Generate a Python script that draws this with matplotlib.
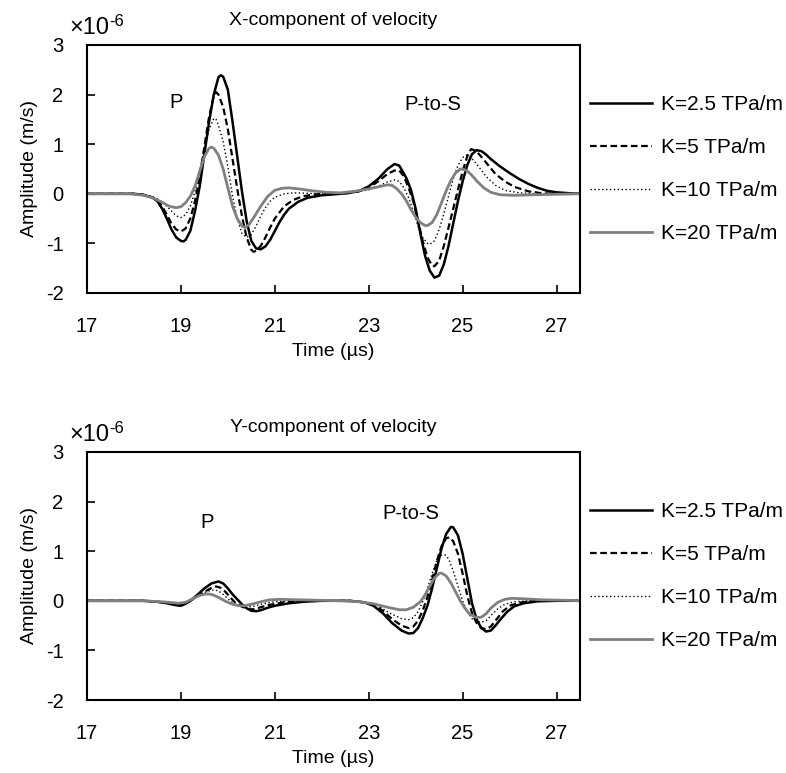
import matplotlib
matplotlib.use("Agg")
import matplotlib.pyplot as plt
from matplotlib import font_manager

# time in microseconds, amplitude in units of 1e-6 m/s
# ---- X-component ----
x_t_k25 = [17.0, 18.0, 18.2, 18.4, 18.5, 18.6, 18.7, 18.8, 18.9, 19.0, 19.05, 19.1, 19.2, 19.3, 19.4, 19.5,
           19.6, 19.7, 19.8, 19.85, 19.9, 20.0, 20.1, 20.2, 20.3, 20.4, 20.5, 20.6, 20.7, 20.8, 20.9, 21.0,
           21.1, 21.2, 21.3, 21.5, 21.7, 22.0, 22.4, 22.6, 22.8, 23.0, 23.2, 23.4, 23.55, 23.65, 23.8, 23.9,
           24.0, 24.1, 24.2, 24.3, 24.4, 24.5, 24.6, 24.7, 24.8, 24.9, 25.0, 25.1, 25.2, 25.3, 25.4, 25.5,
           25.6, 25.8, 26.0, 26.2, 26.4, 26.6, 26.8, 27.0, 27.3, 27.5]
x_a_k25 = [0.0, 0.0, -0.02, -0.08, -0.15, -0.3, -0.5, -0.72, -0.88, -0.95, -0.96, -0.93, -0.75, -0.35, 0.15, 0.8,
           1.45, 2.0, 2.35, 2.39, 2.36, 2.1, 1.45, 0.75, 0.05, -0.55, -0.95, -1.1, -1.12, -1.06, -0.93, -0.75,
           -0.57, -0.42, -0.3, -0.16, -0.08, -0.03, 0.0, 0.02, 0.06, 0.15, 0.3, 0.5, 0.6, 0.57, 0.32, 0.08,
           -0.3, -0.8, -1.25, -1.55, -1.69, -1.65, -1.42, -1.05, -0.6, -0.15, 0.25, 0.58, 0.8, 0.88, 0.86, 0.79,
           0.7, 0.55, 0.42, 0.3, 0.2, 0.12, 0.06, 0.03, 0.01, 0.0]

x_t_k5 = [17.0, 18.0, 18.2, 18.4, 18.5, 18.6, 18.7, 18.8, 18.9, 19.0, 19.1, 19.2, 19.3, 19.4, 19.5, 19.6,
          19.7, 19.75, 19.8, 19.9, 20.0, 20.1, 20.2, 20.3, 20.4, 20.5, 20.55, 20.6, 20.7, 20.8, 20.9, 21.0,
          21.2, 21.4, 21.6, 21.8, 22.0, 22.4, 22.6, 22.8, 23.0, 23.2, 23.4, 23.55, 23.65, 23.75, 23.85, 23.95,
          24.05, 24.15, 24.25, 24.35, 24.4, 24.5, 24.6, 24.7, 24.8, 24.9, 25.0, 25.1, 25.18, 25.25, 25.35, 25.5,
          25.7, 25.9, 26.1, 26.4, 26.7, 27.0, 27.5]
x_a_k5 = [0.0, 0.0, -0.02, -0.07, -0.13, -0.25, -0.42, -0.6, -0.72, -0.76, -0.7, -0.5, -0.15, 0.35, 0.95, 1.55,
          1.97, 2.05, 2.0, 1.75, 1.3, 0.7, 0.1, -0.45, -0.88, -1.13, -1.17, -1.15, -1.05, -0.88, -0.68, -0.5,
          -0.25, -0.12, -0.05, -0.02, 0.0, 0.0, 0.02, 0.05, 0.12, 0.25, 0.4, 0.47, 0.47, 0.35, 0.12, -0.15,
          -0.55, -0.95, -1.28, -1.45, -1.46, -1.35, -1.05, -0.68, -0.3, 0.08, 0.45, 0.76, 0.9, 0.88, 0.8, 0.63,
          0.4, 0.25, 0.14, 0.05, 0.01, 0.0, 0.0]

x_t_k10 = [17.0, 18.0, 18.3, 18.5, 18.7, 18.85, 18.95, 19.0, 19.1, 19.2, 19.3, 19.4, 19.5, 19.6, 19.7, 19.75,
           19.8, 19.9, 20.0, 20.1, 20.2, 20.3, 20.4, 20.5, 20.6, 20.7, 20.8, 20.9, 21.0, 21.2, 21.4, 21.7,
           22.0, 22.4, 22.7, 23.0, 23.2, 23.4, 23.55, 23.65, 23.75, 23.85, 23.95, 24.05, 24.15, 24.25, 24.3, 24.4,
           24.5, 24.6, 24.7, 24.8, 24.9, 25.0, 25.08, 25.15, 25.3, 25.5, 25.7, 25.9, 26.2, 26.6, 27.5]
x_a_k10 = [0.0, 0.0, -0.03, -0.1, -0.25, -0.4, -0.47, -0.48, -0.42, -0.25, 0.05, 0.45, 0.9, 1.3, 1.52, 1.5,
           1.38, 1.05, 0.55, -0.05, -0.5, -0.8, -0.88, -0.82, -0.65, -0.45, -0.28, -0.15, -0.07, 0.0, 0.02, 0.01,
           0.0, 0.0, 0.03, 0.08, 0.15, 0.24, 0.28, 0.25, 0.12, -0.08, -0.35, -0.65, -0.88, -1.0, -1.02, -0.95,
           -0.72, -0.4, -0.05, 0.3, 0.57, 0.73, 0.78, 0.76, 0.6, 0.35, 0.17, 0.07, 0.02, 0.0, 0.0]

x_t_k20 = [17.0, 17.9, 18.2, 18.4, 18.6, 18.75, 18.9, 19.0, 19.1, 19.2, 19.3, 19.4, 19.5, 19.6, 19.65, 19.7,
           19.8, 19.9, 20.0, 20.1, 20.2, 20.3, 20.37, 20.45, 20.55, 20.7, 20.85, 21.0, 21.15, 21.3, 21.5, 21.8,
           22.1, 22.4, 22.7, 23.0, 23.2, 23.4, 23.5, 23.6, 23.7, 23.8, 23.9, 24.0, 24.1, 24.2, 24.25, 24.35,
           24.45, 24.55, 24.65, 24.75, 24.85, 24.95, 25.0, 25.1, 25.2, 25.3, 25.45, 25.6, 25.8, 26.1, 26.5, 27.0,
           27.5]
x_a_k20 = [0.0, 0.0, -0.03, -0.08, -0.17, -0.25, -0.28, -0.26, -0.18, -0.05, 0.15, 0.45, 0.75, 0.92, 0.94, 0.92,
           0.78, 0.5, 0.12, -0.25, -0.5, -0.65, -0.68, -0.62, -0.48, -0.25, -0.05, 0.07, 0.11, 0.12, 0.1, 0.06,
           0.03, 0.02, 0.05, 0.1, 0.14, 0.18, 0.17, 0.1, 0.0, -0.14, -0.32, -0.47, -0.58, -0.64, -0.64, -0.58,
           -0.42, -0.18, 0.06, 0.27, 0.42, 0.5, 0.5, 0.46, 0.37, 0.26, 0.12, 0.03, -0.02, -0.03, -0.02, -0.01,
           0.0]

# ---- Y-component ----
y_t_k25 = [17.0, 18.2, 18.5, 18.7, 18.9, 19.0, 19.1, 19.2, 19.35, 19.5, 19.65, 19.8, 19.9, 20.0, 20.1, 20.2,
           20.3, 20.4, 20.5, 20.6, 20.7, 20.85, 21.0, 21.3, 21.6, 22.0, 22.6, 22.9, 23.1, 23.3, 23.5, 23.7,
           23.85, 23.95, 24.05, 24.15, 24.25, 24.35, 24.45, 24.55, 24.65, 24.75, 24.8, 24.9, 25.0, 25.1, 25.2, 25.3,
           25.4, 25.5, 25.6, 25.7, 25.8, 25.95, 26.1, 26.3, 26.6, 27.0, 27.5]
y_a_k25 = [0.0, 0.0, -0.02, -0.05, -0.09, -0.1, -0.06, 0.0, 0.12, 0.25, 0.35, 0.39, 0.35, 0.25, 0.13, 0.03,
           -0.07, -0.15, -0.2, -0.21, -0.19, -0.14, -0.1, -0.05, -0.02, 0.0, 0.0, -0.03, -0.1, -0.25, -0.45, -0.6,
           -0.66, -0.65, -0.55, -0.35, -0.1, 0.25, 0.65, 1.05, 1.35, 1.49, 1.48, 1.32, 0.95, 0.45, -0.05, -0.38,
           -0.55, -0.62, -0.6, -0.5, -0.38, -0.22, -0.11, -0.05, -0.01, 0.0, 0.0]

y_t_k5 = [17.0, 18.2, 18.6, 18.9, 19.0, 19.1, 19.2, 19.35, 19.5, 19.65, 19.75, 19.85, 19.95, 20.05, 20.15, 20.3,
          20.45, 20.55, 20.7, 20.9, 21.2, 21.6, 22.6, 22.9, 23.1, 23.3, 23.5, 23.7, 23.85, 23.95, 24.05, 24.15,
          24.25, 24.35, 24.45, 24.55, 24.65, 24.72, 24.8, 24.9, 25.0, 25.1, 25.2, 25.3, 25.4, 25.5, 25.6, 25.7,
          25.85, 26.0, 26.2, 26.5, 27.5]
y_a_k5 = [0.0, 0.0, -0.03, -0.07, -0.08, -0.05, 0.0, 0.09, 0.18, 0.26, 0.29, 0.26, 0.18, 0.07, -0.03, -0.12,
          -0.17, -0.17, -0.13, -0.08, -0.03, 0.0, 0.0, -0.03, -0.08, -0.2, -0.37, -0.5, -0.55, -0.52, -0.4, -0.2,
          0.08, 0.42, 0.8, 1.1, 1.26, 1.28, 1.2, 0.95, 0.55, 0.1, -0.25, -0.45, -0.55, -0.57, -0.52, -0.4,
          -0.22, -0.1, -0.04, 0.0, 0.0]

y_t_k10 = [17.0, 18.2, 18.6, 18.9, 19.0, 19.1, 19.25, 19.4, 19.55, 19.7, 19.8, 19.9, 20.0, 20.1, 20.25, 20.4,
           20.55, 20.75, 21.0, 21.3, 22.6, 22.9, 23.2, 23.45, 23.7, 23.85, 23.95, 24.05, 24.15, 24.25, 24.35, 24.45,
           24.55, 24.62, 24.7, 24.8, 24.9, 25.0, 25.1, 25.2, 25.3, 25.4, 25.5, 25.6, 25.75, 25.9, 26.1, 26.4, 27.5]
y_a_k10 = [0.0, 0.0, -0.02, -0.05, -0.06, -0.04, 0.03, 0.11, 0.19, 0.22, 0.2, 0.13, 0.04, -0.04, -0.11, -0.13,
           -0.11, -0.06, -0.02, 0.0, 0.0, -0.02, -0.1, -0.25, -0.36, -0.38, -0.34, -0.22, -0.02, 0.25, 0.55, 0.8,
           0.92, 0.93, 0.85, 0.6, 0.3, 0.0, -0.22, -0.36, -0.42, -0.43, -0.4, -0.3, -0.16, -0.07, -0.02, 0.0, 0.0]

y_t_k20 = [17.0, 18.2, 18.6, 18.85, 18.95, 19.1, 19.25, 19.4, 19.55, 19.65, 19.8, 19.95, 20.1, 20.25, 20.35, 20.5,
           20.7, 20.9, 21.1, 21.5, 22.0, 22.4, 22.8, 23.1, 23.4, 23.65, 23.8, 23.95, 24.1, 24.2, 24.3, 24.4,
           24.5, 24.55, 24.65, 24.75, 24.85, 24.95, 25.05, 25.15, 25.3, 25.4, 25.5, 25.6, 25.75, 25.9, 26.05, 26.3,
           26.7, 27.2, 27.5]
y_a_k20 = [0.0, 0.0, -0.02, -0.04, -0.05, -0.03, 0.04, 0.11, 0.14, 0.13, 0.07, -0.01, -0.07, -0.1, -0.1, -0.07,
           -0.02, 0.02, 0.03, 0.02, 0.01, 0.0, -0.02, -0.06, -0.13, -0.18, -0.18, -0.13, -0.02, 0.12, 0.3, 0.46,
           0.55, 0.56, 0.5, 0.36, 0.18, 0.0, -0.15, -0.27, -0.34, -0.33, -0.26, -0.15, -0.03, 0.03, 0.05, 0.04,
           0.02, 0.01, 0.0]

labels = ["K=2.5 TPa/m", "K=5 TPa/m", "K=10 TPa/m", "K=20 TPa/m"]
titles = ["X-component of velocity", "Y-component of velocity"]
x_ticks = [17, 19, 21, 23, 25, 27]
y_ticks = [-2, -1, 0, 1, 2, 3]

names = {f.name for f in font_manager.fontManager.ttflist}
family = "Liberation Sans Narrow" if "Liberation Sans Narrow" in names else "Liberation Sans"
plt.rcParams["font.family"] = [family, "DejaVu Sans"]
plt.rcParams["font.size"] = 14
plt.rcParams["axes.unicode_minus"] = False

styles = [
    dict(color="black", lw=1.8, ls="-"),
    dict(color="black", lw=1.6, ls=(0, (3.0, 1.6))),
    dict(color="black", lw=1.0, ls=(0, (1.0, 1.8))),
    dict(color="#808080", lw=2.0, ls="-"),
]

fig = plt.figure(figsize=(7.86, 7.73), dpi=100)
W, H = 786, 773


def make_axes(top_px, bottom_px):
    return fig.add_axes([87 / W, 1 - bottom_px / H, (580 - 87) / W, (bottom_px - top_px) / H])


ax1 = make_axes(45, 293)
ax2 = make_axes(452, 700)

panels = [
    (ax1, [(x_t_k25, x_a_k25), (x_t_k5, x_a_k5), (x_t_k10, x_a_k10), (x_t_k20, x_a_k20)]),
    (ax2, [(y_t_k25, y_a_k25), (y_t_k5, y_a_k5), (y_t_k10, y_a_k10), (y_t_k20, y_a_k20)]),
]

for i, (ax, series) in enumerate(panels):
    for (t, a), st, lab in zip(series, styles, labels):
        ax.plot(t, a, label=lab, **st)
    ax.set_xlim(17, 27.5)
    ax.set_ylim(-2, 3)
    ax.set_xticks(x_ticks)
    ax.set_yticks(y_ticks)
    ax.tick_params(direction="in", length=6, width=1.2, labelsize=14.5)
    ax.tick_params(axis="x", pad=17)
    ax.tick_params(axis="y", pad=17)
    for sp in ax.spines.values():
        sp.set_linewidth(1.5)
    ax.set_xlabel("Time (µs)", fontsize=14, labelpad=5)
    ax.set_ylabel("Amplitude (m/s)", fontsize=14)
    ax.yaxis.set_label_coords(-0.1, 0.5)
    # scale factor above the y axis
    ax.text(-0.036, 1.069, "×10", transform=ax.transAxes, ha="left", va="center", fontsize=17)
    ax.text(0.046, 1.093, "-6", transform=ax.transAxes, ha="left", va="center", fontsize=12)
    ax.text(0.5, 1.097, titles[i], transform=ax.transAxes, ha="center", va="center", fontsize=14)
    ax.legend(loc="center left", bbox_to_anchor=(1.02, 0.5), frameon=False, fontsize=15,
              handlelength=3.0, handletextpad=0.4, labelspacing=1.15, borderpad=0, borderaxespad=0)

ax1.text(18.9, 1.85, "P", ha="center", va="center", fontsize=14.5)
ax1.text(24.36, 1.8, "P-to-S", ha="center", va="center", fontsize=14.5)
ax2.text(19.55, 1.57, "P", ha="center", va="center", fontsize=14.5)
ax2.text(23.9, 1.77, "P-to-S", ha="center", va="center", fontsize=14.5)

fig.savefig("out.png", dpi=100)
